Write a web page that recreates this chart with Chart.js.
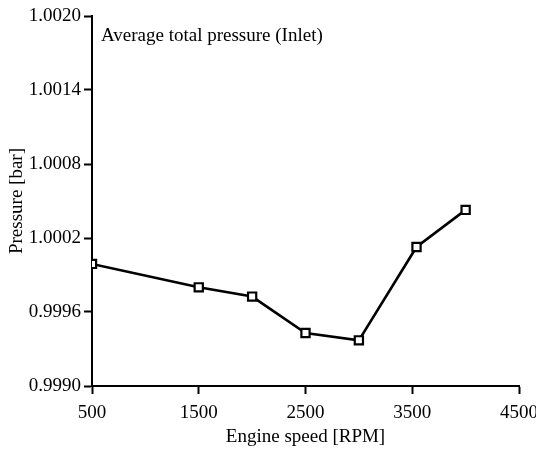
<!DOCTYPE html>
<html lang="en">
<head>
    <meta charset="UTF-8">
    <title>Average total pressure (Inlet)</title>
    <script src="https://cdn.jsdelivr.net/npm/chart.js"></script>
    <style>
        body {
            margin: 0;
            background: white;
        }
    </style>
</head>
<body>
    <canvas id="grafico" width="536" height="449"></canvas>

    <script>
        // datos
        const rpm = [500, 1500, 2000, 2500, 3000, 3540, 4000];
        const presion = [0.99999, 0.99980, 0.999725, 0.99943, 0.99937, 1.000127, 1.000428];
        const ticksX = [500, 1500, 2500, 3500, 4500];
        const ticksY = [0.9990, 0.9996, 1.0002, 1.0008, 1.0014, 1.0020];

        const fuente = 'Liberation Serif, Times New Roman, serif';

        const tituloInterno = {
            id: 'tituloInterno',
            afterDraw(chart) {
                const ctx = chart.ctx;
                ctx.save();
                ctx.font = '19px ' + fuente;
                ctx.fillStyle = '#000';
                ctx.textBaseline = 'alphabetic';
                ctx.fillText('Average total pressure (Inlet)', chart.chartArea.left + 9, 41);
                ctx.restore();
            }
        };

        new Chart(document.getElementById('grafico'), {
            type: 'line',
            data: {
                datasets: [{
                    data: rpm.map((x, i) => ({ x: x, y: presion[i] })),
                    borderColor: '#000',
                    borderWidth: 2.6,
                    pointStyle: 'rect',
                    pointRadius: 5.8,
                    pointBorderWidth: 2.2,
                    pointBackgroundColor: '#fff',
                    pointBorderColor: '#000',
                    tension: 0
                }]
            },
            options: {
                responsive: false,
                animation: false,
                layout: {
                    padding: { top: 16, right: 17, left: 0, bottom: 0 }
                },
                plugins: {
                    legend: { display: false },
                    tooltip: { enabled: false }
                },
                scales: {
                    x: {
                        type: 'linear',
                        min: 500,
                        max: 4500,
                        afterBuildTicks: s => { s.ticks = ticksX.map(v => ({ value: v })); },
                        afterFit: s => { s.height = 63; s.paddingRight = 0; s.paddingLeft = 0; },
                        grid: {
                            drawOnChartArea: false,
                            tickLength: 8,
                            tickColor: '#000',
                            tickWidth: 2
                        },
                        border: { display: true, color: '#000', width: 2 },
                        ticks: {
                            color: '#000',
                            font: { family: fuente, size: 19 },
                            padding: 8,
                            maxRotation: 0,
                            callback: v => String(v)
                        },
                        title: {
                            display: true,
                            text: 'Engine speed [RPM]',
                            color: '#000',
                            font: { family: fuente, size: 19 },
                            padding: { top: 0, bottom: 1 }
                        }
                    },
                    y: {
                        min: 0.9990,
                        max: 1.0020,
                        afterBuildTicks: s => { s.ticks = ticksY.map(v => ({ value: v })); },
                        afterFit: s => { s.width = 92; s.paddingTop = 0; s.paddingBottom = 0; },
                        grid: {
                            drawOnChartArea: false,
                            tickLength: 8,
                            tickColor: '#000',
                            tickWidth: 2
                        },
                        border: { display: true, color: '#000', width: 2 },
                        ticks: {
                            color: '#000',
                            font: { family: fuente, size: 19 },
                            padding: 3,
                            callback: v => v.toFixed(4)
                        },
                        title: {
                            display: true,
                            text: 'Pressure [bar]',
                            color: '#000',
                            font: { family: fuente, size: 19 },
                            padding: { top: 6, bottom: 0 }
                        }
                    }
                }
            },
            plugins: [tituloInterno]
        });
    </script>
</body>
</html>
